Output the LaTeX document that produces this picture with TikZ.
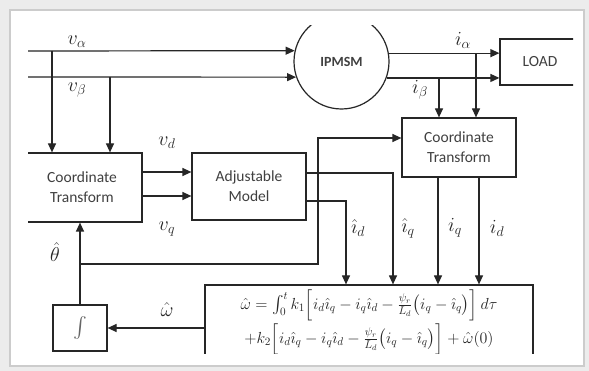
\RequirePackage{fix-cm}
\documentclass[tikz,border=0pt]{standalone}
\usepackage{amsmath}
\usepackage{fontspec}
\setsansfont{Carlito}
\usetikzlibrary{arrows.meta}
\begin{document}
\begin{tikzpicture}[x=1pt,y=-1pt,line width=1.2pt,draw=black!85,
    every node/.style={inner sep=0pt},
    blk/.style={draw=black!85,fill=white,align=center,text=black!75,
      font=\fontsize{15.5}{20}\selectfont\sffamily},
    sig/.style={-{Triangle[length=9pt,width=8pt]}},
    lab/.style={text=black!85,font=\fontsize{20}{22}\selectfont}]
  \useasboundingbox (0,0) rectangle (589,371);
  \fill[gray!15] (0,0) rectangle (589,371);
  \filldraw[fill=white,draw=gray!40,line width=1.5pt] (10,10) rectangle (584,366);
  \begin{scope}
    \clip (28,26) rectangle (573,353);
    \node[blk,circle,minimum size=95pt,font=\fontsize{14}{16}\selectfont\sffamily\bfseries]
      (motor) at (341.5,61.5) {IPMSM};
    \node[blk,minimum width=80pt,minimum height=46pt] (load) at (540,62) {LOAD};
    \node[blk,minimum width=120pt,minimum height=69pt] (ctl) at (82,187.5) {Coordinate\\Transform};
    \node[blk,minimum width=114pt,minimum height=67pt] (am) at (249,186.5) {Adjustable\\Model};
    \node[blk,minimum width=114pt,minimum height=59pt] (ctr) at (459,147.5) {Coordinate\\Transform};
    \node[blk,minimum width=54pt,minimum height=46pt,text=black!60,font=\fontsize{20}{22}\selectfont]
      (integ) at (80,328) {$\int$};
    \node[blk,minimum width=328pt,minimum height=74pt,text=black!85,font=\fontsize{16}{34}\selectfont]
      (eq) at (369,322)
      {$\hat\omega=\int_0^t k_1\Big[i_d\hat\imath_q-i_q\hat\imath_d-\tfrac{\psi_r}{L_d}\big(i_q-\hat\imath_q\big)\Big]\,d\tau$\\
       $+k_2\Big[i_d\hat\imath_q-i_q\hat\imath_d-\tfrac{\psi_r}{L_d}\big(i_q-\hat\imath_q\big)\Big]+\hat\omega(0)$};

    \coordinate (ina) at (28,51);
    \coordinate (inb) at (28,77);
    \coordinate (dropa) at (52,51);
    \coordinate (dropb) at (110,77);
    \coordinate (rowd) at (0,172);
    \coordinate (rowq) at (0,196);
    \coordinate (hq) at (393,173);
    \coordinate (hd) at (346,201);
    \coordinate (cola) at (476,0);
    \coordinate (colb) at (439,0);
    \coordinate (colq) at (438,0);
    \coordinate (cold) at (479,0);
    \coordinate (thk) at (318,264);
    \coordinate (thr) at (318,138);

    \draw[sig] (ina) -- (motor.167);
    \draw[sig] (inb) -- (motor.199);
    \foreach \c in {dropa,dropb}
      \draw[sig] (\c) -- (\c |- ctl.north);
    \foreach \r in {rowd,rowq}
      \draw[sig] (ctl.east |- \r) -- (am.west |- \r);
    \foreach \c in {hq,hd}
      \draw[sig] (am.east |- \c) -- (\c) -- (\c |- eq.north);
    \foreach \a/\c in {10/cola,-20/colb} {
      \draw[sig] (motor.\a) -- (load.west |- motor.\a);
      \draw[sig] (motor.\a -| \c) -- (ctr.north -| \c);
    }
    \foreach \c in {colq,cold}
      \draw[sig] (ctr.south -| \c) -- (eq.north -| \c);
    \draw[sig] (integ.north) -- (integ.north |- ctl.south);
    \draw[sig] (integ.north |- thk) -- (thk) -- (thr) -- (ctr.west |- thr);
    \draw[sig] (eq.west |- integ.east) -- (integ.east);

    \foreach \nm/\pos/\txt in {
        l-va/{77,42}/{v_\alpha},
        l-vb/{77,90}/{v_\beta},
        l-vd/{167,143}/{v_d},
        l-vq/{167,229}/{v_q},
        l-th/{55,252}/{\hat\theta},
        l-om/{167,310}/{\hat\omega},
        l-ia/{463,40}/{i_\alpha},
        l-ib/{420,90}/{i_\beta},
        l-hid/{358,228}/{\hat\imath_d},
        l-hiq/{408,228}/{\hat\imath_q},
        l-iq/{455,228}/{i_q},
        l-id/{497,228}/{i_d}
      }
      \node[lab] (\nm) at (\pos) {$\txt$};
  \end{scope}
\end{tikzpicture}
\end{document}
